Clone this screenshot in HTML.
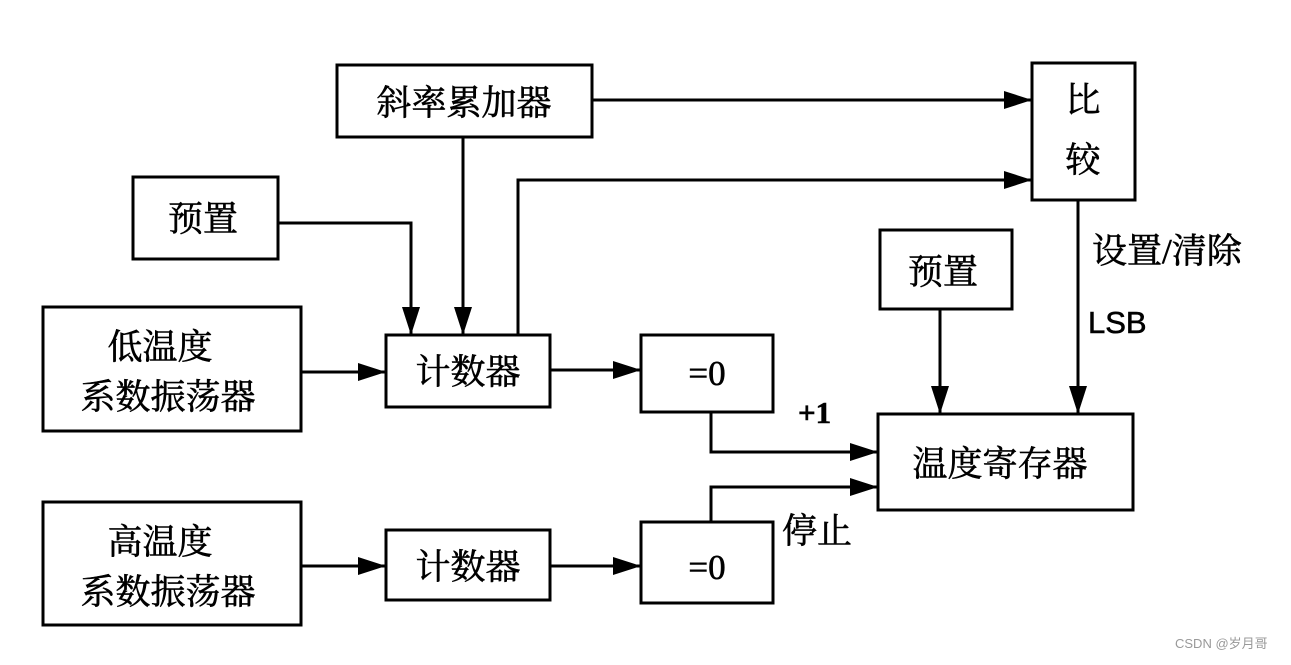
<!DOCTYPE html>
<html><head><meta charset="utf-8"><style>
body{margin:0;background:#fff;}
svg text{font-family:"Liberation Serif","Noto Serif CJK SC","Noto Sans CJK SC",serif;fill:#000;stroke:#000;stroke-width:0.6;}
</style></head><body>
<svg width="1291" height="660" viewBox="0 0 1291 660" xmlns="http://www.w3.org/2000/svg">
<defs>
<marker id="b" markerWidth="28" markerHeight="18" refX="28" refY="9" orient="auto" markerUnits="userSpaceOnUse"><path d="M0,0 L28,9 L0,18 z" fill="#000"/></marker></defs>
<g fill="none" stroke="#000" stroke-width="3">
<rect x="337" y="65" width="255" height="72"/>
<rect x="1032" y="63" width="103" height="137"/>
<rect x="133" y="177" width="145" height="82"/>
<rect x="880" y="230" width="132" height="79"/>
<rect x="43" y="307" width="258" height="124"/>
<rect x="386" y="335" width="164" height="72"/>
<rect x="641" y="335" width="132" height="77"/>
<rect x="878" y="414" width="255" height="96"/>
<rect x="43" y="502" width="258" height="123"/>
<rect x="386" y="530" width="164" height="70"/>
<rect x="641" y="522" width="132" height="81"/>
<path d="M592,100 H1032" marker-end="url(#b)"/>
<path d="M463,137 V335" marker-end="url(#b)"/>
<path d="M278,223 H411 V335" marker-end="url(#b)"/>
<path d="M518,335 V180 H1032" marker-end="url(#b)"/>
<path d="M1078,200 V414" marker-end="url(#b)"/>
<path d="M940,309 V414" marker-end="url(#b)"/>
<path d="M301,372 H386" marker-end="url(#b)"/>
<path d="M550,370 H641" marker-end="url(#b)"/>
<path d="M711,412 V452 H878" marker-end="url(#b)"/>
<path d="M711,522 V487 H878" marker-end="url(#b)"/>
<path d="M301,566 H386" marker-end="url(#b)"/>
<path d="M550,566 H641" marker-end="url(#b)"/>
</g>
<g font-size="35">
<text x="464" y="115" text-anchor="middle">斜率累加器</text>
<text x="1083" y="112" text-anchor="middle">比</text>
<text x="1083" y="172" text-anchor="middle">较</text>
<text x="203" y="231" text-anchor="middle">预置</text>
<text x="943" y="284" text-anchor="middle">预置</text>
<text x="160" y="359" text-anchor="middle">低温度</text>
<text x="168" y="409" text-anchor="middle">系数振荡器</text>
<text x="468" y="384" text-anchor="middle">计数器</text>
<text x="707" y="385" text-anchor="middle">=0</text>
<text x="1000" y="476" text-anchor="middle">温度寄存器</text>
<text x="160" y="554" text-anchor="middle">高温度</text>
<text x="168" y="604" text-anchor="middle">系数振荡器</text>
<text x="468" y="579" text-anchor="middle">计数器</text>
<text x="707" y="579" text-anchor="middle">=0</text>
<text x="1092" y="263" style="font-size:35px">设置/清除</text>
<text x="1088" y="333" style="font-size:31px;font-family:'Liberation Sans',sans-serif">LSB</text>
<text x="798" y="423" style="font-size:31px;font-weight:bold">+1</text>
<text x="782" y="543">停止</text>
</g>
<text x="1175" y="648" font-size="13" style="fill:#999;stroke:none;font-family:'Liberation Sans','Noto Sans CJK SC',sans-serif">CSDN @岁月哥</text>
</svg>
</body></html>
